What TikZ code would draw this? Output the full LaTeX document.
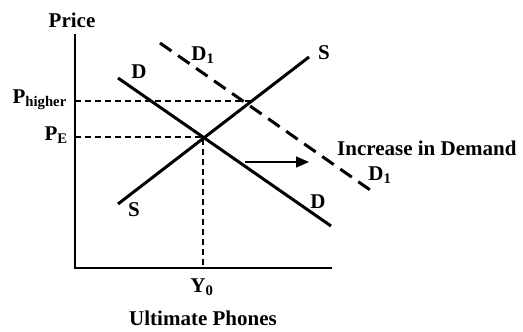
\documentclass[tikz,border=0pt]{standalone}
\usepackage{fontspec}
\setmainfont{Liberation Serif}
\usetikzlibrary{arrows.meta}
\begin{document}
\begin{tikzpicture}[x=1pt,y=-1pt,
  lbl/.style={inner sep=0pt,font=\fontsize{21}{25}\selectfont\bfseries},
  curve/.style={line width=3pt},
  guide/.style={line width=1.3pt,dash pattern=on 6pt off 4pt},
  shifted/.style={line width=3pt,dash pattern=on 14pt off 8pt},
  axis/.style={line width=2pt}]
\useasboundingbox (0,0) rectangle (523,332);
% axes
\coordinate (ytop) at (75,34);
\coordinate (origin) at (75,268);
\coordinate (xend) at (332,268);
\draw[axis] (ytop) -- (origin) -- (xend);
% curves
\coordinate (d0) at (118,78);
\coordinate (d1) at (331,226);
\coordinate (s0) at (118,204);
\coordinate (s1) at (309,57);
\coordinate (dd0) at (160,43);
\coordinate (dd1) at (373,192);
\coordinate (eq) at (203,137);
\coordinate (hi) at (252,101);
\coordinate (pe) at (75,137);
\coordinate (ph) at (75,101);
\coordinate (y0) at (203,268);
\draw[guide] (ph) -- (hi);
\draw[guide] (pe) -- (eq) -- (y0);
\draw[curve] (d0) -- (d1);
\draw[curve] (s0) -- (s1);
\draw[shifted] (dd0) -- (dd1);
% arrow
\coordinate (a0) at (245,162);
\coordinate (a1) at (309,162);
\draw[line width=1.5pt,-{Triangle[length=13pt,width=11pt]}] (a0) -- (a1);
% labels
\node[lbl] (price) at (72,20) {Price};
\node[lbl,anchor=east] (lph) at (67,100) {P\textsubscript{higher}};
\node[lbl,anchor=east] (lpe) at (68,135) {P\textsubscript{E}};
\node[lbl] (ly0) at (202,287) {Y\textsubscript{0}};
\node[lbl] (lx) at (203,318) {Ultimate Phones};
\node[lbl] (ld0) at (139,72) {D};
\node[lbl] (ld1) at (318,202) {D};
\node[lbl] (ls1) at (324,53) {S};
\node[lbl] (ls0) at (134,210) {S};
\node[lbl] (ldd0) at (203,55) {D\textsubscript{1}};
\node[lbl] (ldd1) at (380,175) {D\textsubscript{1}};
\node[lbl,anchor=west] (inc) at (337,148) {Increase in Demand};
\end{tikzpicture}
\end{document}
